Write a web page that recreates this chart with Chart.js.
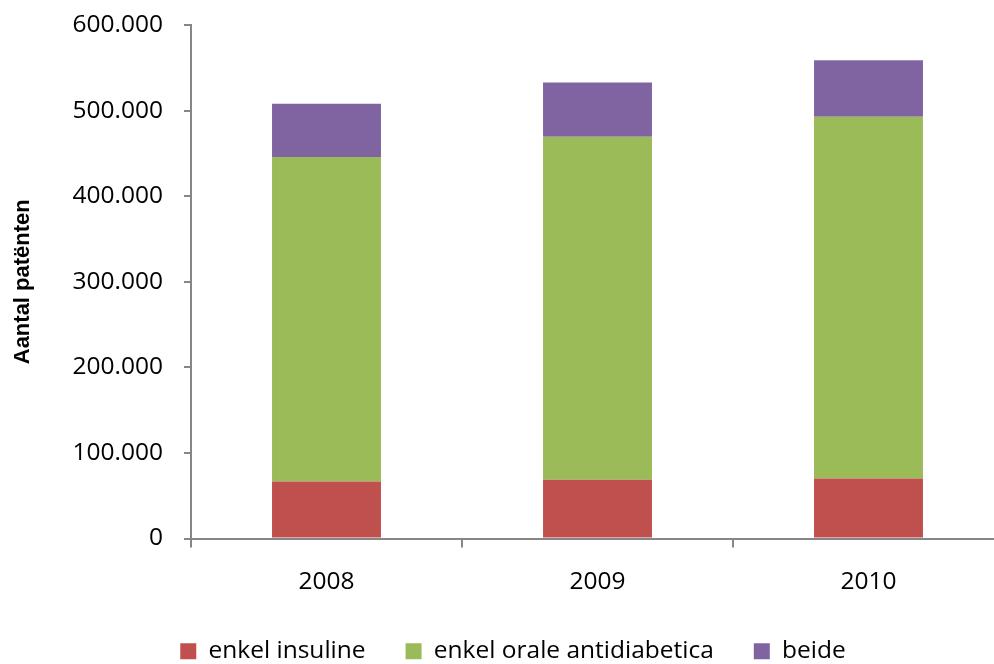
<!DOCTYPE html>
<html>
<head>
<meta charset="utf-8">
<script src="https://cdn.jsdelivr.net/npm/chart.js@4"></script>
<style>
html,body{margin:0;padding:0;background:#fff;overflow:hidden;width:994px;height:664px;}
#wrap{position:absolute;left:0;top:0;width:1004px;height:664px;}
</style>
</head>
<body>
<div id="wrap"><canvas id="c"></canvas></div>
<script>
const categories = ['2008', '2009', '2010'];
const enkelInsuline = [66700, 68700, 70000];
const enkelOrale = [379200, 400600, 422700];
const beide = [62000, 63600, 66000];
const seriesNames = ['enkel insuline', 'enkel orale antidiabetica', 'beide'];
const seriesColors = ['#C0504D', '#9BBB59', '#8064A2'];
const yTicks = [0, 100000, 200000, 300000, 400000, 500000, 600000];
const yTitle = 'Aantal patënten';

function fmt(v) {
  return String(v).replace(/\B(?=(\d{3})+(?!\d))/g, '.');
}

const legendShift = {
  id: 'legendShift',
  afterLayout(chart) {
    const l = chart.legend;
    if (l) { l.left += 11; l.right += 11; }
  }
};

const FONT = 'Open Sans';

new Chart(document.getElementById('c'), {
  type: 'bar',
  data: {
    labels: categories,
    datasets: [
      { label: seriesNames[0], data: enkelInsuline, backgroundColor: seriesColors[0] },
      { label: seriesNames[1], data: enkelOrale, backgroundColor: seriesColors[1] },
      { label: seriesNames[2], data: beide, backgroundColor: seriesColors[2] }
    ]
  },
  plugins: [legendShift],
  options: {
    responsive: true,
    maintainAspectRatio: false,
    animation: false,
    layout: { padding: { top: 25, left: 0, right: 0, bottom: -9.5 } },
    datasets: { bar: { categoryPercentage: 1, barPercentage: 0.402 } },
    plugins: {
      tooltip: { enabled: false },
      legend: {
        position: 'bottom',
        labels: {
          font: { family: FONT, size: 24.5 },
          color: '#000',
          boxWidth: 16,
          boxHeight: 16,
          padding: 40
        }
      }
    },
    scales: {
      x: {
        stacked: true,
        afterFit(scale) { scale.height = 60.5; },
        grid: { display: true, drawOnChartArea: false, offset: true, tickLength: 9, color: '#868686', lineWidth: 2 },
        border: { color: '#868686', width: 2 },
        ticks: { font: { family: FONT, size: 24.5 }, color: '#000', padding: 20 }
      },
      y: {
        stacked: true,
        min: 0,
        max: 600000,
        afterBuildTicks(scale) { scale.ticks = yTicks.map(v => ({ value: v })); },
        afterFit(scale) { scale.width = 191; scale.paddingTop = 12; scale.paddingBottom = 12; },
        grid: { display: true, drawOnChartArea: false, tickLength: 7, color: '#868686', lineWidth: 2 },
        border: { color: '#868686', width: 2 },
        ticks: { font: { family: FONT, size: 24.5 }, color: '#000', padding: 21, callback: v => fmt(v) },
        title: { display: true, text: yTitle, font: { family: 'Liberation Sans', size: 22, weight: 'bold' }, color: '#000', padding: { top: 10, bottom: 0 } }
      }
    }
  }
});
</script>
</body>
</html>
